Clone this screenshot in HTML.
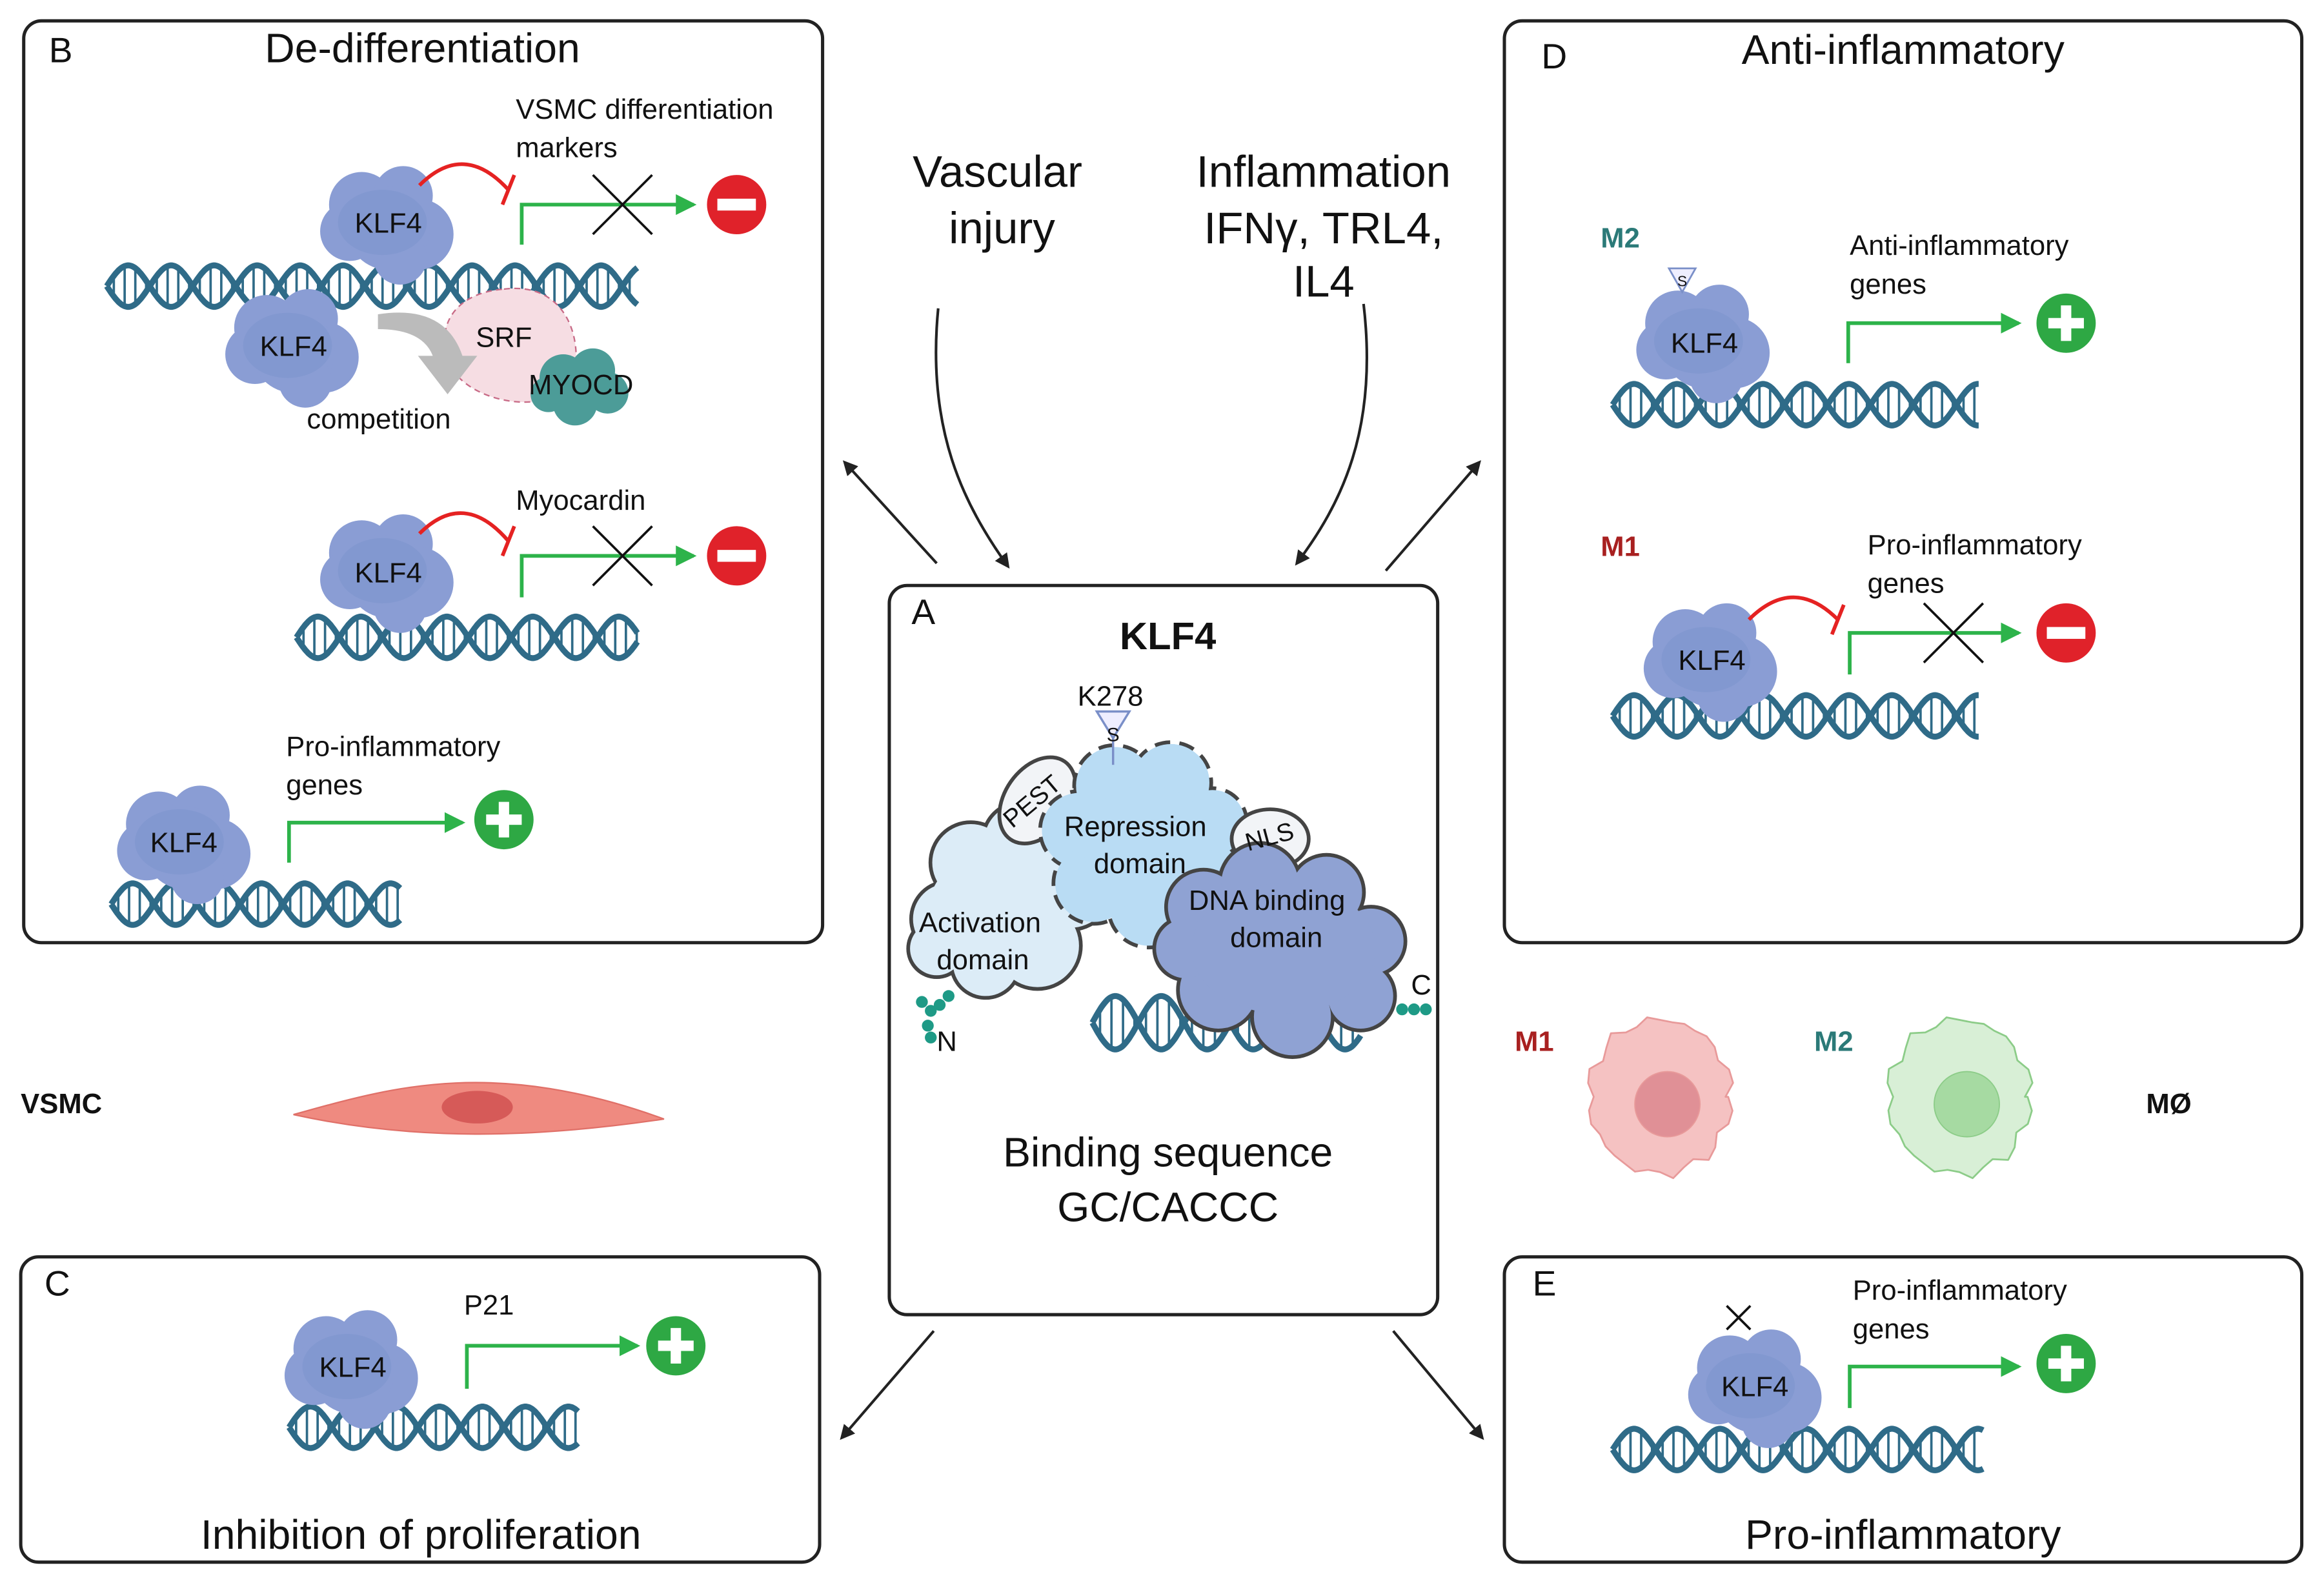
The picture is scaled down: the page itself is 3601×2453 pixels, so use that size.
<!DOCTYPE html>
<html><head><meta charset="utf-8"><style>
html,body{margin:0;padding:0;background:#fff;}
svg{display:block;}
text{font-family:"Liberation Sans",sans-serif;}
</style></head><body>
<svg id="s" width="3601" height="2453" viewBox="0 0 1568 1068" xmlns="http://www.w3.org/2000/svg">
<defs>
<marker id="ah" markerWidth="10" markerHeight="10" refX="8" refY="5" orient="auto" markerUnits="userSpaceOnUse"><path d="M0,0 L10,5 L0,10 z" fill="#222"/></marker>
<marker id="ga" markerWidth="14" markerHeight="14" refX="12" refY="7" orient="auto" markerUnits="userSpaceOnUse"><path d="M0,0 L14,7 L0,14 z" fill="#2db34a"/></marker>
</defs>
<rect width="1568" height="1068" fill="#fff"/>
<g fill="none" stroke="#222" stroke-width="2.2">
<rect x="16" y="14" width="539" height="622" rx="12"/>
<rect x="1015" y="14" width="538" height="622" rx="12"/>
<rect x="14" y="848" width="539" height="206" rx="12"/>
<rect x="1015" y="848" width="538" height="206" rx="12"/>
<rect x="600" y="395" width="370" height="492" rx="12"/>
</g>
<g fill="none" stroke="#222" stroke-width="1.8" marker-end="url(#ah)">
<path d="M633,208 C625,290 650,340 680,382"/>
<path d="M920,205 C930,290 905,340 875,380"/>
<path d="M632,380 L570,312"/>
<path d="M935,385 L998,312"/>
<path d="M630,898 L568,970"/>
<path d="M940,898 L1000,970"/>
</g>
<g id="shapes"></g>
<g fill="#111">
<text x="33" y="42" font-size="24">B</text>
<text x="285" y="42" font-size="28" text-anchor="middle">De-differentiation</text>
<text x="1040" y="46" font-size="24">D</text>
<text x="1284" y="43" font-size="28" text-anchor="middle">Anti-inflammatory</text>
<text x="30" y="874" font-size="24">C</text>
<text x="284" y="1045" font-size="28" text-anchor="middle">Inhibition of proliferation</text>
<text x="1034" y="874" font-size="24">E</text>
<text x="1284" y="1045" font-size="28" text-anchor="middle">Pro-inflammatory</text>
<text x="615" y="421" font-size="24">A</text>
<text x="788" y="438" font-size="26" font-weight="bold" text-anchor="middle">KLF4</text>
<text x="788" y="787" font-size="28" text-anchor="middle">Binding  sequence</text>
<text x="788" y="824" font-size="28" text-anchor="middle">GC/CACCC</text>
<text x="673" y="126" font-size="30" text-anchor="middle">Vascular</text>
<text x="676" y="164" font-size="30" text-anchor="middle">injury</text>
<text x="893" y="126" font-size="30" text-anchor="middle">Inflammation</text>
<text x="893" y="164" font-size="30" text-anchor="middle">IFNγ, TRL4,</text>
<text x="893" y="200" font-size="30" text-anchor="middle">IL4</text>
<text x="14" y="751" font-size="19" font-weight="bold">VSMC</text>
<text x="1022" y="709" font-size="19" font-weight="bold" fill="#a82020">M1</text>
<text x="1224" y="709" font-size="19" font-weight="bold" fill="#2b7a78">M2</text>
<text x="1448" y="751" font-size="19" font-weight="bold">MØ</text>
<text x="1080" y="167" font-size="19" font-weight="bold" fill="#2b7a78">M2</text>
<text x="1080" y="375" font-size="19" font-weight="bold" fill="#a82020">M1</text>
<g font-size="19">
<text x="348" y="80">VSMC differentiation</text>
<text x="348" y="106">markers</text>
<text x="207" y="289">competition</text>
<text x="348" y="344">Myocardin</text>
<text x="193" y="510">Pro-inflammatory</text>
<text x="193" y="536">genes</text>
<text x="1248" y="172">Anti-inflammatory</text>
<text x="1248" y="198">genes</text>
<text x="1260" y="374">Pro-inflammatory</text>
<text x="1260" y="400">genes</text>
<text x="313" y="887">P21</text>
<text x="1250" y="877">Pro-inflammatory</text>
<text x="1250" y="903">genes</text>
<text x="727" y="476">K278</text>
<text x="632" y="709">N</text>
<text x="952" y="671">C</text>
<text x="718" y="564">Repression</text>
<text x="738" y="589">domain</text>
<text x="620" y="629">Activation</text>
<text x="632" y="654">domain</text>
<text x="802" y="614">DNA binding</text>
<text x="830" y="639">domain</text>
</g>
<g font-size="19">
<text x="262" y="157" text-anchor="middle">KLF4</text>
<text x="198" y="240" text-anchor="middle">KLF4</text>
<text x="262" y="393" text-anchor="middle">KLF4</text>
<text x="124" y="575" text-anchor="middle">KLF4</text>
<text x="1150" y="238" text-anchor="middle">KLF4</text>
<text x="1155" y="452" text-anchor="middle">KLF4</text>
<text x="238" y="929" text-anchor="middle">KLF4</text>
<text x="1184" y="942" text-anchor="middle">KLF4</text>
<text x="340" y="234" text-anchor="middle">SRF</text>
<text x="392" y="266" text-anchor="middle">MYOCD</text>
<text x="751" y="500" text-anchor="middle" font-size="13">S</text>
<text x="1135" y="193" text-anchor="middle" font-size="10">S</text>
<text transform="translate(700,545) rotate(-40)" text-anchor="middle" font-size="17">PEST</text>
<text transform="translate(858,570) rotate(-15)" text-anchor="middle" font-size="17">NLS</text>
</g>
</g>
</svg>
<script>
var g=document.getElementById('shapes');var h='';
function dna(x1,x2,y,a,p){var s1='',s2='',r='';for(var x=x1;x<=x2;x+=1){var t=Math.sin(2*Math.PI*(x-x1)/p);s1+=(x==x1?'M':'L')+x+','+(y+a*t).toFixed(1);s2+=(x==x1?'M':'L')+x+','+(y-a*t).toFixed(1);}
for(var x=x1+p/12;x<x2;x+=p/8){var t=Math.sin(2*Math.PI*(x-x1)/p);r+='M'+x.toFixed(1)+','+(y+a*t).toFixed(1)+'L'+x.toFixed(1)+','+(y-a*t).toFixed(1);}
h+='<path d="'+r+'" stroke="#2f6b88" stroke-width="1.6" fill="none"/><path d="'+s1+'" stroke="#2f6b88" stroke-width="4" fill="none"/><path d="'+s2+'" stroke="#2f6b88" stroke-width="4" fill="none"/>';}
function klf(x,y,s){s=s||1;var c=[[-18,-12,22],[10,-18,20],[-26,6,20],[20,8,24],[0,4,28],[8,24,18]];
c.forEach(function(e){h+='<circle cx="'+(x+e[0]*s)+'" cy="'+(y+e[1]*s)+'" r="'+e[2]*s+'" fill="#8a9dd4"/>';});
h+='<ellipse cx="'+(x-4*s)+'" cy="'+(y)+'" rx="'+30*s+'" ry="'+22*s+'" fill="#8298d0"/>';}
function prom(x,yb,yt,xe){h+='<path d="M'+x+','+yb+' L'+x+','+yt+' L'+xe+','+yt+'" stroke="#2db34a" stroke-width="2.5" fill="none" marker-end="url(#ga)"/>';}
function plus(x,y){h+='<circle cx="'+x+'" cy="'+y+'" r="20" fill="#2ea844"/><rect x="'+(x-12)+'" y="'+(y-3.5)+'" width="24" height="7" fill="#fff"/><rect x="'+(x-3.5)+'" y="'+(y-12)+'" width="7" height="24" fill="#fff"/>';}
function minus(x,y){h+='<circle cx="'+x+'" cy="'+y+'" r="20" fill="#e0222a"/><rect x="'+(x-13)+'" y="'+(y-4)+'" width="26" height="8" fill="#fff"/>';}
function cross(x,y){h+='<path d="M'+(x-20)+','+(y-20)+'L'+(x+20)+','+(y+20)+'M'+(x+20)+','+(y-20)+'L'+(x-20)+','+(y+20)+'" stroke="#111" stroke-width="1.6"/>';}
function inh(x1,y1,x2,y2){var mx=(x1+x2)/2;h+='<path d="M'+x1+','+y1+' Q'+mx+','+(y1-30)+' '+x2+','+(y2)+'" stroke="#e52222" stroke-width="2.5" fill="none"/><path d="M'+(x2+4)+','+(y2-10)+'L'+(x2-4)+','+(y2+10)+'" stroke="#e52222" stroke-width="2.5"/>';}
function cloud(cs,fill,dash,core){var o='',f='';cs.forEach(function(c){o+='<circle cx="'+c[0]+'" cy="'+c[1]+'" r="'+c[2]+'" fill="'+fill+'" stroke="#444" stroke-width="5"'+(dash?' stroke-dasharray="10 6"':'')+'/>';f+='<circle cx="'+c[0]+'" cy="'+c[1]+'" r="'+c[2]+'" fill="'+fill+'"/>';});
f+='<ellipse cx="'+core[0]+'" cy="'+core[1]+'" rx="'+core[2]+'" ry="'+core[3]+'" fill="'+fill+'"/>';h+=o+f;}
// Panel B
dna(72,430,193,14,58);klf(262,150);inh(283,125,343,128);prom(352,165,138,468);cross(420,138);minus(497,138);
h+='<path d="M340,195 C380,190 392,225 388,250 C380,280 330,275 310,255 C290,230 300,198 340,195z" fill="#f6dde3" stroke="#c86a86" stroke-width="1" stroke-dasharray="4 3"/>';
h+='<path d="M255,212 Q300,205 312,240 L322,240 L302,266 L282,240 L292,240 Q285,222 255,222z" fill="#bbb"/>';
klf(198,233);
[[380,255,16],[400,250,15],[410,265,14],[388,272,15],[370,266,12]].forEach(function(c){h+='<circle cx="'+c[0]+'" cy="'+c[1]+'" r="'+c[2]+'" fill="#4c9c98"/>';});
dna(200,430,430,14,58);klf(262,385);inh(283,360,343,365);prom(352,403,375,468);cross(420,375);minus(497,375);
dna(75,270,610,14,58);klf(125,568);prom(195,582,555,312);plus(340,553);
// Panel D
dna(1088,1335,273,14,58);klf(1150,230);h+='<path d="M1126,181 L1144,181 L1135,197z" fill="#eef" stroke="#7a8fc8" stroke-width="1.2"/>';prom(1247,245,218,1362);plus(1394,218);
dna(1088,1335,483,14,58);klf(1155,445);inh(1180,418,1240,418);prom(1248,455,427,1362);cross(1318,427);minus(1394,427);
// Panel C
dna(195,390,963,14,58);klf(238,922);prom(315,937,908,430);plus(456,908);
// Panel E
dna(1088,1338,978,14,58);klf(1185,935);prom(1248,950,922,1362);plus(1394,920);
h+='<path d="M1165,881 L1181,897 M1181,881 L1165,897" stroke="#111" stroke-width="1.6"/>';
// VSMC cell
h+='<path d="M198,752 C260,735 330,712 448,755 C360,768 280,770 198,752z" fill="#ef8a80" stroke="#e07068" stroke-width="1"/><ellipse cx="322" cy="747" rx="24" ry="11" fill="#d65a58"/>';
function mac(x,y,fill,st,nuc){var d='';for(var i=0;i<=36;i++){var a=i/36*2*Math.PI;var r=52+((i%3)-1)*2+Math.sin(i*1.7)*2;d+=(i?'L':'M')+(x+r*0.92*Math.cos(a)).toFixed(1)+','+(y+r*Math.sin(a)).toFixed(1);}h+='<path d="'+d+'z" fill="'+fill+'" stroke="'+st+'" stroke-width="1.2" stroke-linejoin="round"/><circle cx="'+(x+5)+'" cy="'+(y+5)+'" r="22" fill="'+nuc+'" stroke="'+st+'" stroke-width="0.8"/>';}
mac(1120,740,'#f5c2c2','#e89a9a','#e09096');mac(1322,740,'#d8efd6','#8ccc88','#a6daa2');
// Panel A clouds
cloud([[640,620,24],[655,582,26],[690,568,26],[722,598,28],[700,638,28],[665,650,22],[632,640,18]],'#dcecf7',false,[675,612,48,38]);
h+='<ellipse cx="700" cy="540" rx="22" ry="32" transform="rotate(35 700 540)" fill="#f2f4f7" stroke="#444" stroke-width="2.5"/>';
cloud([[728,560,25],[752,530,26],[790,528,26],[818,555,22],[812,590,24],[775,612,26],[738,596,26]],'#b9dcf4',true,[774,568,44,38]);
h+='<ellipse cx="857" cy="566" rx="26" ry="20" fill="#f2f4f7" stroke="#444" stroke-width="2.5"/>';
dna(737,918,690,18,62);
cloud([[812,612,24],[850,596,26],[895,602,24],[925,635,22],[918,672,22],[872,686,26],[822,668,26],[800,640,20]],'#8fa2d3',false,[866,640,62,44]);
h+='<path d="M751,490 L751,516" stroke="#7a8fc8" stroke-width="1.5"/><path d="M740,480 L762,480 L751,498z" fill="#eef" stroke="#7a8fc8" stroke-width="1.5"/>';
[[622,676],[628,682],[626,692],[628,700],[634,678],[640,672]].forEach(function(c){h+='<circle cx="'+c[0]+'" cy="'+c[1]+'" r="4" fill="#1e9a86"/>';});
[[946,681],[954,681],[962,681]].forEach(function(c){h+='<circle cx="'+c[0]+'" cy="'+c[1]+'" r="4" fill="#1e9a86"/>';});
g.innerHTML=h;
</script>
</body></html>
